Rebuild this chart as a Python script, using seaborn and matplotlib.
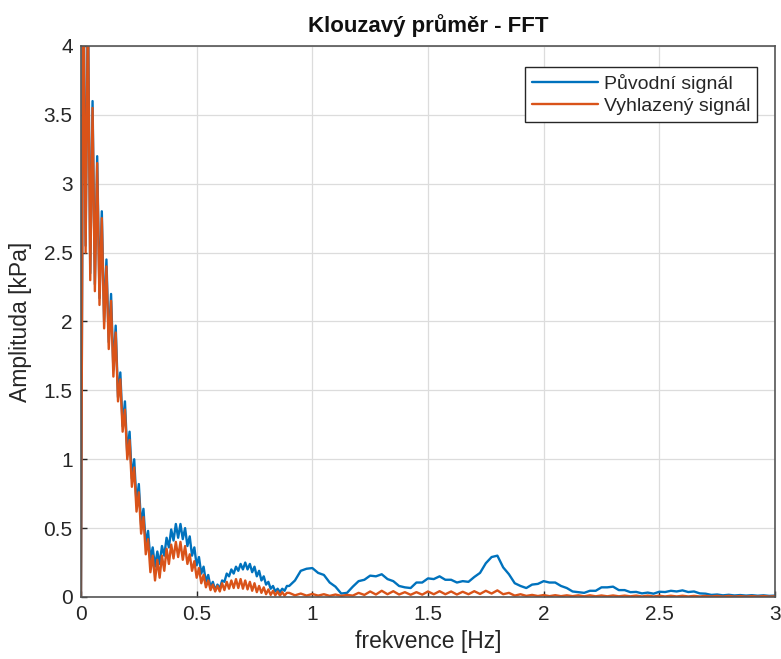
import numpy as np
import pandas as pd
import seaborn as sns
import matplotlib
matplotlib.use('Agg')
import matplotlib.pyplot as plt

# low band 0..0.89 Hz, step 0.01 -> troughs at even bins, peaks at odd bins
orig_troughs = [0.0, 2.55, 2.35, 2.27, 2.17, 2.0, 1.85, 1.65, 1.45, 1.24,
                1.04, 0.86, 0.68, 0.52, 0.38, 0.27, 0.22, 0.24, 0.3, 0.36,
                0.41, 0.43, 0.42, 0.37, 0.3, 0.23, 0.17, 0.11, 0.07, 0.05,
                0.06, 0.11, 0.15, 0.17, 0.19, 0.2, 0.2, 0.18, 0.15, 0.12,
                0.09, 0.06, 0.04, 0.035, 0.045]
orig_peaks = [4.7, 4.4, 3.6, 3.2, 2.8, 2.45, 2.2, 1.97, 1.63, 1.42,
              1.2, 1.0, 0.82, 0.64, 0.48, 0.36, 0.33, 0.37, 0.43, 0.49,
              0.53, 0.53, 0.5, 0.44, 0.36, 0.29, 0.22, 0.16, 0.11, 0.09,
              0.12, 0.17, 0.2, 0.22, 0.24, 0.25, 0.24, 0.22, 0.19, 0.15,
              0.11, 0.08, 0.06, 0.06, 0.08]
smooth_troughs = [0.0, 2.5, 2.3, 2.22, 2.12, 1.95, 1.8, 1.6, 1.42, 1.2,
                  1.0, 0.8, 0.62, 0.46, 0.31, 0.18, 0.12, 0.14, 0.19, 0.24,
                  0.28, 0.29, 0.27, 0.24, 0.19, 0.14, 0.1, 0.07, 0.05, 0.04,
                  0.04, 0.05, 0.06, 0.065, 0.065, 0.06, 0.055, 0.045, 0.035, 0.03,
                  0.02, 0.015, 0.012, 0.01, 0.01]
smooth_peaks = [4.6, 4.3, 3.55, 3.15, 2.75, 2.4, 2.15, 1.92, 1.58, 1.36,
                1.14, 0.94, 0.76, 0.58, 0.42, 0.3, 0.27, 0.3, 0.35, 0.38,
                0.4, 0.4, 0.37, 0.31, 0.26, 0.21, 0.16, 0.12, 0.09, 0.08,
                0.1, 0.11, 0.12, 0.13, 0.13, 0.12, 0.11, 0.1, 0.08, 0.07,
                0.055, 0.045, 0.04, 0.035, 0.03]

# high band 0.9..3.0 Hz, step 0.025
orig_high = [0.08, 0.12, 0.19, 0.205, 0.21, 0.175, 0.16, 0.105, 0.075, 0.025,
             0.03, 0.075, 0.115, 0.125, 0.155, 0.15, 0.165, 0.13, 0.115, 0.08,
             0.07, 0.065, 0.105, 0.105, 0.135, 0.13, 0.15, 0.125, 0.125, 0.105,
             0.115, 0.11, 0.145, 0.175, 0.245, 0.29, 0.3, 0.215, 0.165, 0.1,
             0.08, 0.065, 0.09, 0.095, 0.115, 0.105, 0.105, 0.08, 0.065, 0.04,
             0.035, 0.03, 0.045, 0.045, 0.07, 0.07, 0.075, 0.05, 0.05, 0.035,
             0.037, 0.026, 0.032, 0.024, 0.038, 0.036, 0.045, 0.04, 0.048, 0.036,
             0.04, 0.026, 0.024, 0.015, 0.018, 0.012, 0.016, 0.011, 0.014, 0.01,
             0.013, 0.009, 0.012, 0.008, 0.01]
smooth_high = [0.03, 0.012, 0.025, 0.01, 0.022, 0.01, 0.02, 0.008, 0.018, 0.008,
               0.015, 0.01, 0.03, 0.015, 0.04, 0.018, 0.045, 0.02, 0.042, 0.018,
               0.035, 0.016, 0.035, 0.017, 0.04, 0.02, 0.042, 0.02, 0.04, 0.018,
               0.038, 0.02, 0.042, 0.022, 0.045, 0.025, 0.048, 0.02, 0.03, 0.01,
               0.02, 0.008, 0.015, 0.007, 0.014, 0.006, 0.013, 0.006, 0.012, 0.006,
               0.012, 0.005, 0.012, 0.005, 0.011, 0.005, 0.011, 0.005, 0.01, 0.005,
               0.01, 0.004, 0.01, 0.004, 0.009, 0.004, 0.009, 0.004, 0.009, 0.004,
               0.008, 0.004, 0.008, 0.004, 0.008, 0.003, 0.008, 0.003, 0.007, 0.003,
               0.007, 0.003, 0.007, 0.003, 0.006]

labels = ['Původní signál', 'Vyhlazený signál']
colors = ['#0072BD', '#D95319']

freq_low = np.round(np.arange(90) * 0.01, 3)
freq_high = np.round(0.9 + np.arange(85) * 0.025, 3)
freq = np.concatenate([freq_low, freq_high])


def build(troughs, peaks, high):
    low = np.empty(90)
    low[0::2] = troughs
    low[1::2] = peaks
    return np.concatenate([low, high])


df = pd.concat([
    pd.DataFrame({'f': freq, 'a': build(orig_troughs, orig_peaks, orig_high), 'sig': labels[0]}),
    pd.DataFrame({'f': freq, 'a': build(smooth_troughs, smooth_peaks, smooth_high), 'sig': labels[1]}),
])

sns.set_theme(style='whitegrid')
plt.rcParams['font.family'] = ['Liberation Sans', 'DejaVu Sans']

fig = plt.figure(figsize=(7.81, 6.59), dpi=100)
ax = fig.add_axes([0.1037, 0.0941, 0.8886, 0.8361])
sns.lineplot(data=df, x='f', y='a', hue='sig', palette=colors, sort=False,
             estimator=None, linewidth=1.7, legend=False, ax=ax)

ax.set_xlim(0, 3)
ax.set_ylim(0, 4)
ax.set_xticks(np.arange(0, 3.01, 0.5))
ax.set_yticks(np.arange(0, 4.01, 0.5))
ax.set_xticklabels(['0', '0.5', '1', '1.5', '2', '2.5', '3'])
ax.set_yticklabels(['0', '0.5', '1', '1.5', '2', '2.5', '3', '3.5', '4'])
ax.grid(True, color='#dcdcdc', linewidth=0.9)
for s in ax.spines.values():
    s.set_color('#555555')
    s.set_linewidth(1.2)
ax.tick_params(direction='in', length=4, width=1, colors='#262626',
               labelsize=15, pad=6, bottom=True, left=True)
ax.set_xlabel('frekvence [Hz]', fontsize=16.5, color='#262626', labelpad=4)
ax.set_ylabel('Amplituda [kPa]', fontsize=16.5, color='#262626', labelpad=8)
ax.set_title('Klouzavý průměr - FFT', fontsize=16, fontweight='bold', color='#111111', pad=10)

leg = ax.legend(labels, loc='upper right', bbox_to_anchor=(0.974, 0.962),
                borderaxespad=0, fontsize=14, handlelength=3.4, handletextpad=0.3,
                labelspacing=0.25, borderpad=0.35, fancybox=False, framealpha=1)
leg.get_frame().set_edgecolor('#262626')
leg.get_frame().set_linewidth(1.0)

fig.savefig('out.png', dpi=100)
